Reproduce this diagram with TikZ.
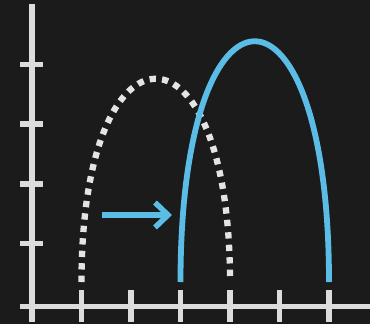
\documentclass[tikz,border=0pt]{standalone}
\usetikzlibrary{arrows.meta}
\definecolor{bg}{HTML}{1B1B1B}
\definecolor{axis}{HTML}{DCDCDC}
\definecolor{dotc}{HTML}{E4E4E4}
\definecolor{sky}{HTML}{5BBDE6}
\tikzset{
  axisline/.style={draw=axis, line width=5.3pt},
  tickline/.style={draw=axis, line width=5.3pt},
  oldcurve/.style={draw=dotc, line width=6.3pt, dash pattern=on 6.3pt off 6.2pt},
  newcurve/.style={draw=sky, line width=5.8pt},
  shiftarrow/.style={draw=sky, line width=5.5pt, miter limit=10}
}
\begin{document}
\begin{tikzpicture}[x=1pt,y=-1pt]
\fill[bg] (0,0) rectangle (370,324);
\useasboundingbox (0,0) rectangle (370,324);
% axes
\draw[axisline] (32,4) -- (32,322);
\draw[axisline] (20,306.5) -- (372,306.5);
\foreach \yy in {64.5,124,184,243.5}
  \draw[tickline] (20,\yy) -- (43,\yy);
\foreach \xx in {81.5,131,180.5,230,279.5,329}
  \draw[tickline] (\xx,290) -- (\xx,322);
% curves
\draw[oldcurve] (81.5,282) .. controls (81.5,11) and (230,11) .. (230,282);
\draw[newcurve] (180.5,282) .. controls (180.5,-39) and (329,-39) .. (329,282);
% arrow
\draw[shiftarrow] (102,215) -- (168,215);
\draw[shiftarrow] (155,202.5) -- (168,215) -- (155,227.5);
\end{tikzpicture}
\end{document}
